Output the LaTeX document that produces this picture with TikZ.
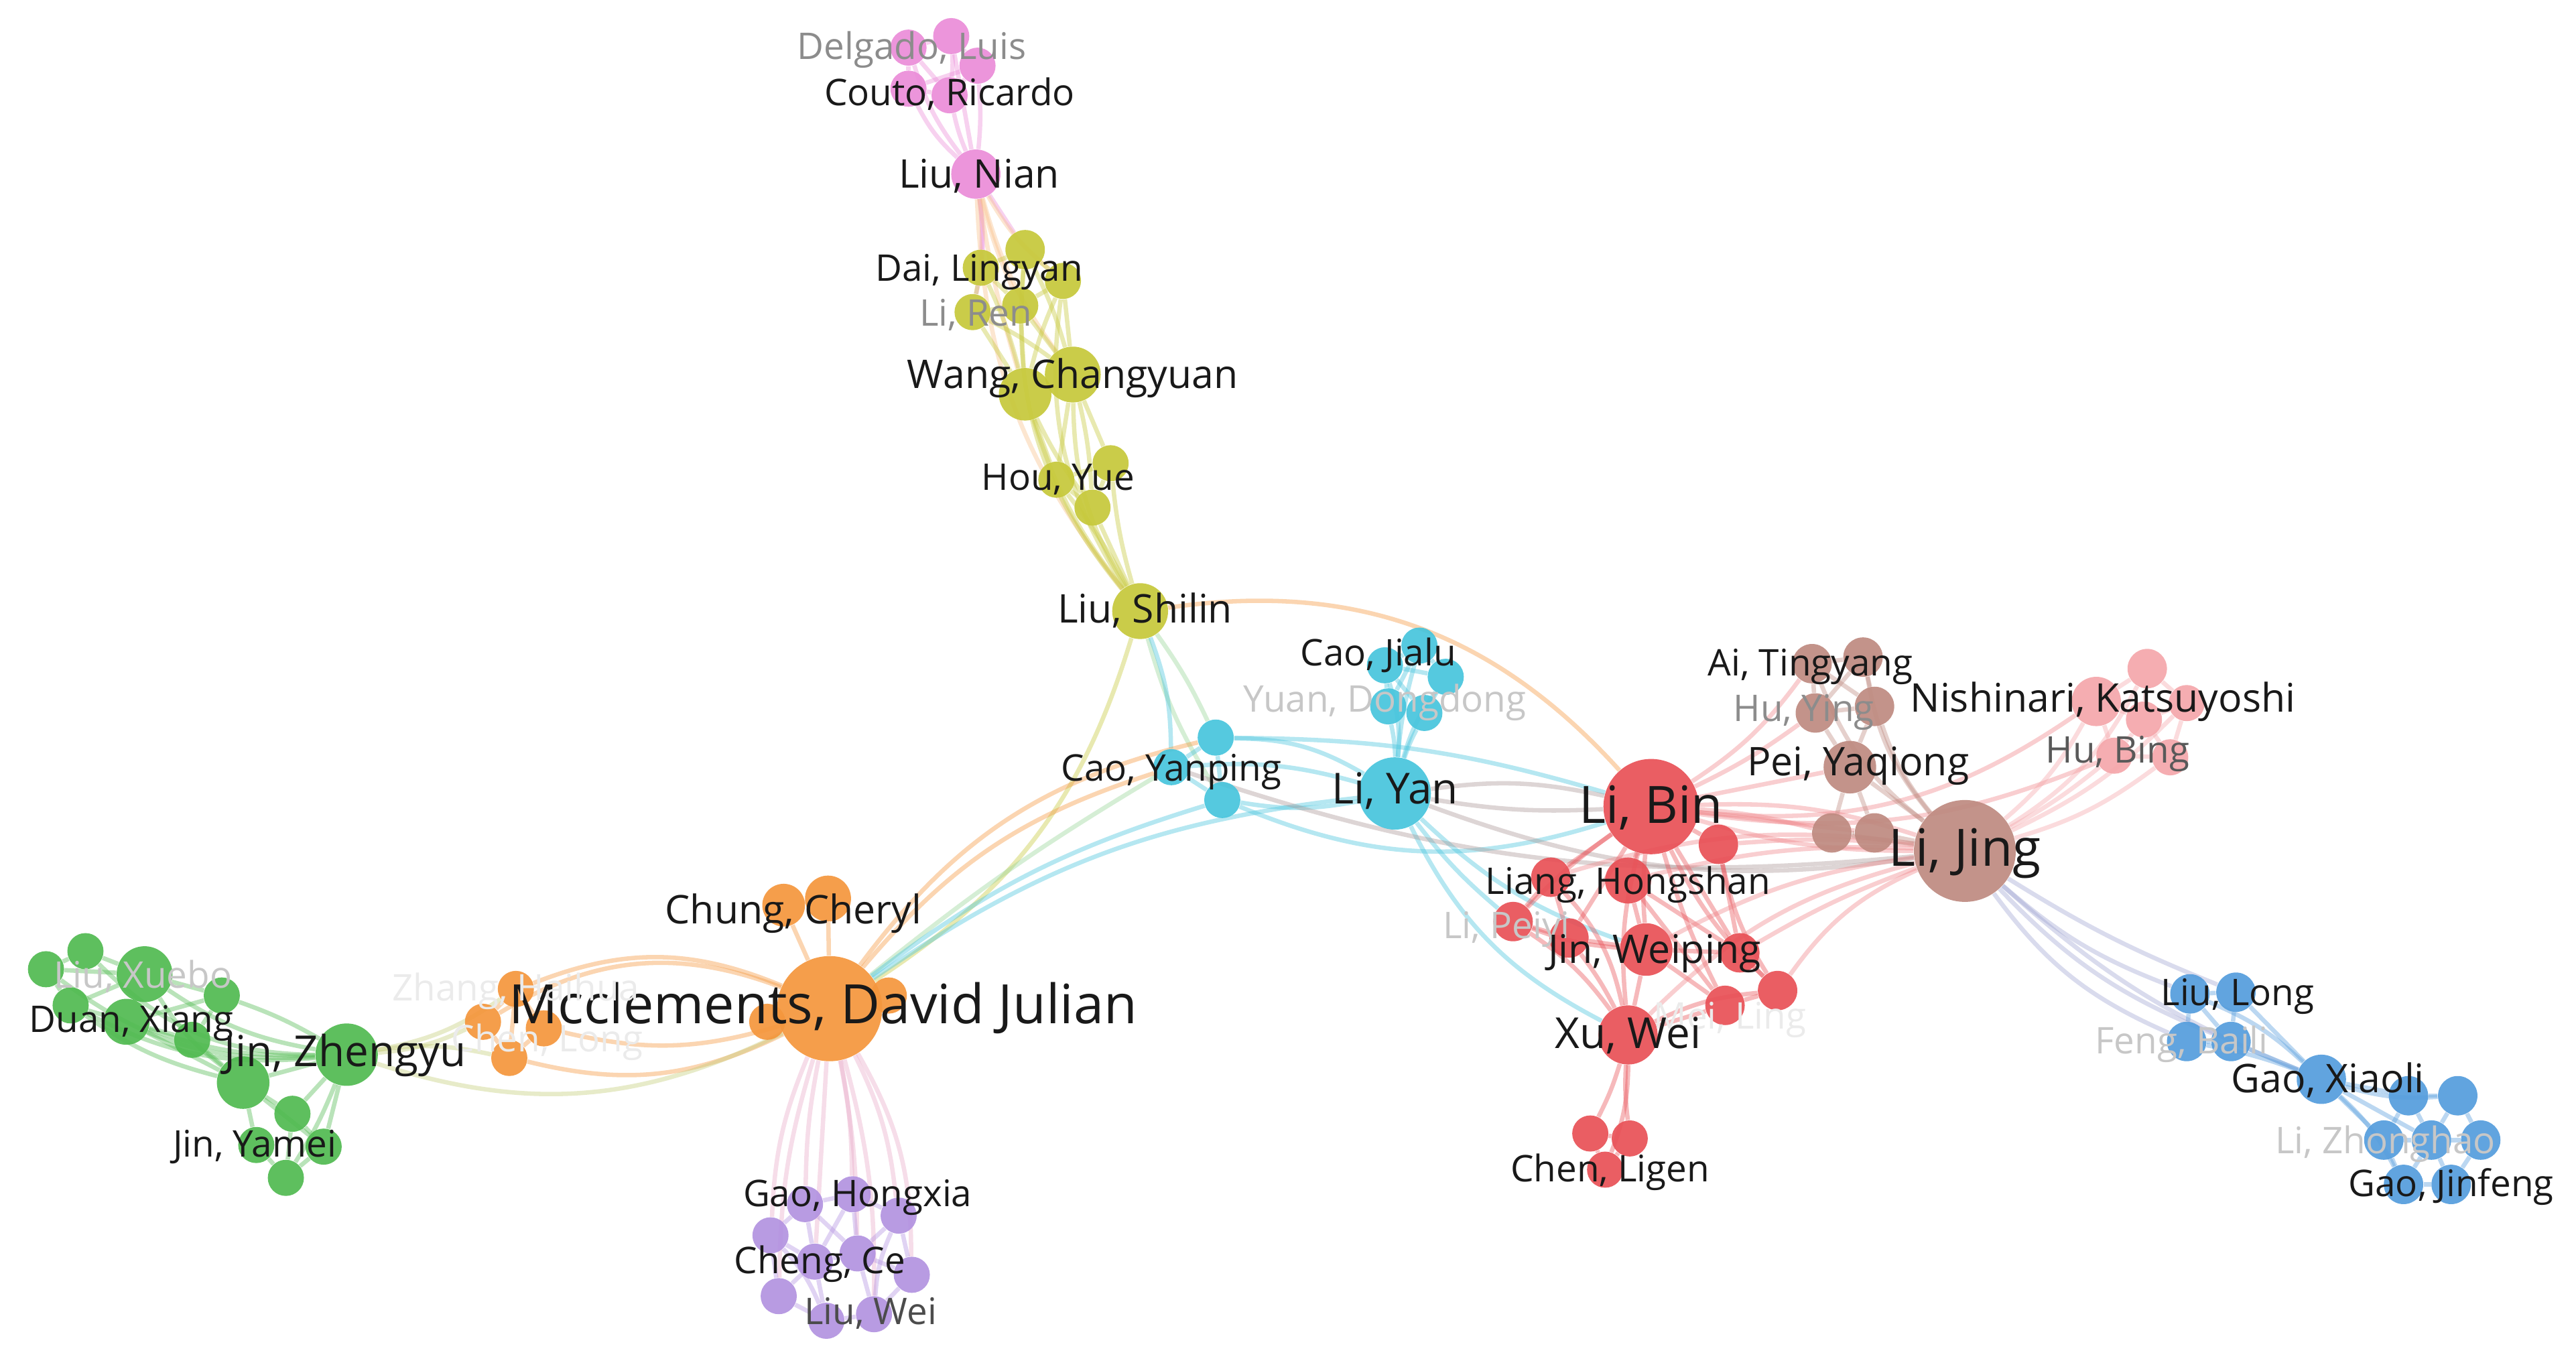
\documentclass[tikz,border=0pt]{standalone}
\usepackage{fontspec}
\setmainfont{Open Sans}
\pgfdeclarelayer{bg}
\pgfsetlayers{bg,main}
\definecolor{cPk}{RGB}{234,140,216}
\definecolor{cYe}{RGB}{198,200,58}
\definecolor{cCy}{RGB}{70,196,220}
\definecolor{cOr}{RGB}{244,150,60}
\definecolor{cGr}{RGB}{80,186,80}
\definecolor{cPu}{RGB}{178,146,224}
\definecolor{cRd}{RGB}{232,80,86}
\definecolor{cBr}{RGB}{190,138,128}
\definecolor{cLp}{RGB}{244,166,170}
\definecolor{cBl}{RGB}{84,156,220}
\definecolor{eYG}{RGB}{150,212,150}
\definecolor{eOG}{RGB}{196,204,120}
\definecolor{ePP}{RGB}{232,170,200}
\definecolor{eGB}{RGB}{170,150,150}
\definecolor{eBB}{RGB}{160,165,210}
\tikzset{
  nd/.style={circle,inner sep=0pt,fill opacity=0.92,minimum size={#1*0.5mm}},
  ed/.style={line width=1.9pt,draw opacity=0.4},
  lb/.style={inner sep=0pt,text height=0.72em,text depth=0pt,anchor=center,text=black!90,yshift=-0.8mm},
  sA/.style={lb,font=\fontsize{15.9}{18}\selectfont},
  sB/.style={lb,font=\fontsize{17.1}{20}\selectfont},
  sC/.style={lb,font=\fontsize{18.5}{21}\selectfont},
  sD/.style={lb,font=\fontsize{22.3}{25}\selectfont},
  sE/.style={lb,font=\fontsize{23.5}{26}\selectfont},
  fA/.style={text=black!45},
  fB/.style={text=black!22},
  fC/.style={text=black!8}
}
\newcommand\nodeat[5]{\node[nd=#4,fill=#5] (#1) at (#2,#3) {};}
\begin{document}
\begin{tikzpicture}[x=0.25mm,y=-0.25mm]
\useasboundingbox (0,0) rectangle (1568,833);
% pink
\nodeat{pkA}{553}{29}{11}{cPk}
\nodeat{pkB}{579}{22}{11}{cPk}
\nodeat{pkC}{595}{40}{11}{cPk}
\nodeat{pkD}{553}{54}{11}{cPk}
\nodeat{pkE}{578}{58}{11}{cPk}
\nodeat{nian}{594}{106}{15}{cPk}
% yellow
\nodeat{yA}{597}{163}{11}{cYe}
\nodeat{yB}{624}{152}{12}{cYe}
\nodeat{yC}{647}{171}{11}{cYe}
\nodeat{yD}{592}{190}{11}{cYe}
\nodeat{yE}{621}{186}{11}{cYe}
\nodeat{wcA}{653}{228}{17}{cYe}
\nodeat{wcB}{624}{240}{16}{cYe}
\nodeat{yF}{676}{282}{11}{cYe}
\nodeat{yG}{643}{292}{11}{cYe}
\nodeat{yH}{665}{309}{11}{cYe}
\nodeat{shilin}{694}{372}{17}{cYe}
% cyan
\nodeat{cyA}{740}{449}{11}{cCy}
\nodeat{cyB}{713}{467}{11}{cCy}
\nodeat{cyC}{744}{487}{11}{cCy}
\nodeat{cjA}{864}{393}{11}{cCy}
\nodeat{cjB}{843}{405}{11}{cCy}
\nodeat{cjC}{880}{412}{11}{cCy}
\nodeat{cjD}{845}{430}{11}{cCy}
\nodeat{cjE}{867}{434}{11}{cCy}
\nodeat{liyan}{849}{483}{22}{cCy}
% orange
\nodeat{chA}{477}{551}{13}{cOr}
\nodeat{chB}{504}{547}{14}{cOr}
\nodeat{oL}{467}{622}{11}{cOr}
\nodeat{oR}{541}{606}{11}{cOr}
\nodeat{mcc}{505}{614}{32}{cOr}
\nodeat{zA}{314}{602}{11}{cOr}
\nodeat{zB}{294}{622}{11}{cOr}
\nodeat{zC}{331}{626}{11}{cOr}
\nodeat{zD}{310}{644}{11}{cOr}
% green
\nodeat{gA}{28}{590}{11}{cGr}
\nodeat{gB}{52}{579}{11}{cGr}
\nodeat{gC}{88}{593}{17}{cGr}
\nodeat{gD}{43}{612}{11}{cGr}
\nodeat{gE}{77}{622}{14}{cGr}
\nodeat{gF}{135}{606}{11}{cGr}
\nodeat{gG}{117}{633}{11}{cGr}
\nodeat{gH}{148}{659}{16}{cGr}
\nodeat{jz}{211}{642}{19}{cGr}
\nodeat{gI}{178}{678}{11}{cGr}
\nodeat{gJ}{156}{697}{11}{cGr}
\nodeat{gK}{197}{698}{11}{cGr}
\nodeat{gL}{174}{717}{11}{cGr}
% purple
\nodeat{puA}{490}{733}{11}{cPu}
\nodeat{puB}{519}{727}{11}{cPu}
\nodeat{puC}{547}{740}{11}{cPu}
\nodeat{puD}{469}{752}{11}{cPu}
\nodeat{puE}{496}{768}{11}{cPu}
\nodeat{puF}{522}{763}{11}{cPu}
\nodeat{puG}{555}{776}{11}{cPu}
\nodeat{puH}{474}{789}{11}{cPu}
\nodeat{puI}{503}{804}{11}{cPu}
\nodeat{puJ}{532}{800}{11}{cPu}
% red
\nodeat{libin}{1005}{491}{29}{cRd}
\nodeat{rA}{1046}{514}{12}{cRd}
\nodeat{rB}{944}{534}{12}{cRd}
\nodeat{rC}{991}{536}{14}{cRd}
\nodeat{rD}{921}{561}{12}{cRd}
\nodeat{rE}{955}{571}{12}{cRd}
\nodeat{jw}{1002}{578}{16}{cRd}
\nodeat{rF}{1059}{580}{12}{cRd}
\nodeat{rG}{1082}{603}{12}{cRd}
\nodeat{rH}{1050}{612}{12}{cRd}
\nodeat{xuwei}{991}{630}{18}{cRd}
\nodeat{clA}{968}{690}{11}{cRd}
\nodeat{clB}{992}{693}{11}{cRd}
\nodeat{clC}{977}{712}{11}{cRd}
% brown
\nodeat{brA}{1103}{404}{12}{cBr}
\nodeat{brB}{1134}{400}{12}{cBr}
\nodeat{brC}{1105}{434}{12}{cBr}
\nodeat{brD}{1141}{430}{12}{cBr}
\nodeat{pei}{1126}{467}{16}{cBr}
\nodeat{brE}{1115}{507}{12}{cBr}
\nodeat{brF}{1141}{507}{12}{cBr}
\nodeat{lijing}{1196}{518}{31}{cBr}
% light pink
\nodeat{nkA}{1276}{427}{15}{cLp}
\nodeat{nkB}{1307}{407}{12}{cLp}
\nodeat{nkC}{1331}{428}{11}{cLp}
\nodeat{nkD}{1305}{438}{11}{cLp}
\nodeat{nkE}{1287}{460}{11}{cLp}
\nodeat{nkF}{1321}{461}{11}{cLp}
% blue
\nodeat{blA}{1333}{605}{12}{cBl}
\nodeat{blB}{1361}{604}{12}{cBl}
\nodeat{blC}{1331}{634}{12}{cBl}
\nodeat{blD}{1358}{634}{12}{cBl}
\nodeat{gx}{1413}{657}{15}{cBl}
\nodeat{blE}{1466}{667}{12}{cBl}
\nodeat{blF}{1496}{667}{12}{cBl}
\nodeat{blG}{1451}{694}{12}{cBl}
\nodeat{blH}{1480}{694}{12}{cBl}
\nodeat{blI}{1510}{694}{12}{cBl}
\nodeat{blJ}{1463}{721}{12}{cBl}
\nodeat{blK}{1492}{721}{12}{cBl}

\begin{pgfonlayer}{bg}
\foreach \a/\b/\k in {pkA/pkB/0,pkA/pkD/0,pkB/pkC/0,pkB/pkE/5,pkD/pkE/0,pkC/pkE/0,pkA/pkE/0,pkD/pkC/0,pkD/nian/-10,pkE/nian/-5,pkA/nian/-10,pkC/nian/5,pkB/nian/0,nian/yA/5,nian/yD/10,nian/yB/0}
  \draw[ed,cPk] (\a) to[bend left=\k] (\b);
\foreach \a/\b/\k in {nian/yE/-5,nian/wcA/-10,nian/yC/-10,nian/shilin/-18,nian/wcB/-4}
  \draw[ed,cOr!60] (\a) to[bend left=\k] (\b);
\foreach \a/\b/\k in {yA/yB/0,yA/yD/0,yA/yE/0,yB/yC/0,yB/yE/0,yC/yE/0,yD/yE/0,yA/wcB/5,yD/wcB/0,yE/wcA/0,yC/wcA/0,yB/wcA/5,yD/wcA/5,yE/wcB/0,yC/wcB/-5,wcA/wcB/0,wcA/yF/0,wcA/yH/5,wcB/yG/0,wcB/yH/-5,wcA/yG/0,yF/yG/0,yG/yH/0,yF/yH/0,wcA/shilin/-15,wcB/shilin/-10,yH/shilin/0,yG/shilin/5,yF/shilin/-5,yC/shilin/-20,yB/shilin/-22,shilin/mcc/20}
  \draw[ed,cYe] (\a) to[bend left=\k] (\b);
\foreach \a/\b/\k in {shilin/cyA/5,shilin/cyC/-8,mcc/cyB/4}
  \draw[ed,eYG] (\a) to[bend left=\k] (\b);
\draw[ed,cOr] (shilin) to[bend left=28] (libin);
\foreach \a/\b/\k in {shilin/cyB/10,cyA/cyB/0,cyB/cyC/0,cyA/cyC/0,cyA/liyan/15,cyB/liyan/10,cyC/liyan/-10,cjA/cjB/0,cjA/cjC/0,cjB/cjD/0,cjD/cjE/0,cjC/cjE/0,cjB/cjE/0,cjA/cjD/0,cjB/cjC/0,cjD/liyan/5,cjE/liyan/-5,cjB/liyan/10,cjA/liyan/-5,cjC/liyan/-10,cyC/libin/-20,cyA/libin/8,liyan/jw/-12,liyan/xuwei/-18,liyan/rD/-6,mcc/cyC/10,mcc/liyan/14}
  \draw[ed,cCy] (\a) to[bend left=\k] (\b);
\foreach \a/\b/\k in {liyan/libin/10,liyan/libin/-6,liyan/lijing/-14,cyB/lijing/-12}
  \draw[ed,eGB] (\a) to[bend left=\k] (\b);
\foreach \a/\b/\k in {mcc/chA/0,mcc/chB/0,chA/chB/0,mcc/zA/-22,mcc/zB/-26,mcc/zC/15,mcc/zD/20,zA/zB/0,zA/zC/0,zB/zD/0,zC/zD/0,zA/zD/0,mcc/oL/0,mcc/oR/0,mcc/cyB/16,mcc/cyA/20}
  \draw[ed,cOr] (\a) to[bend left=\k] (\b);
\foreach \a/\b/\k in {jz/zB/-10,jz/zD/10,jz/zA/-12,jz/mcc/-22}
  \draw[ed,eOG] (\a) to[bend left=\k] (\b);
\foreach \a/\b/\k in {gA/gB/0,gA/gD/0,gB/gC/0,gC/gD/0,gC/gE/0,gD/gE/0,gA/gC/0,gC/gF/0,gE/gF/0,gE/gG/0,gF/gG/0,gC/gH/-10,gE/gH/0,gD/gH/-10,gG/gH/0,gC/jz/-12,gB/jz/-22,gE/jz/-10,gF/jz/5,gD/jz/-16,gH/jz/0,gH/gI/0,gH/gJ/0,gI/gK/0,gJ/gL/0,gK/gL/0,gI/gL/0,jz/gK/0,jz/gI/0,gH/gK/0,gA/jz/-20,jz/gL/5}
  \draw[ed,cGr] (\a) to[bend left=\k] (\b);
\foreach \a/\b/\k in {mcc/puA/-5,mcc/puB/5,mcc/puD/-10,mcc/puE/0,mcc/puF/5,mcc/puC/10,mcc/puG/15,mcc/puH/-8,mcc/puJ/8}
  \draw[ed,ePP] (\a) to[bend left=\k] (\b);
\foreach \a/\b/\k in {puA/puB/0,puB/puC/0,puA/puD/0,puD/puE/0,puE/puF/0,puF/puC/0,puC/puG/0,puG/puF/0,puE/puH/0,puH/puI/0,puI/puJ/0,puJ/puG/0,puA/puE/0,puB/puF/0,puD/puH/0,puE/puI/0,puF/puJ/0,puA/puF/0,puB/puE/0,puD/puI/10,puC/puJ/-10}
  \draw[ed,cPu] (\a) to[bend left=\k] (\b);
\foreach \a/\b/\k in {libin/rA/0,libin/rB/0,libin/rC/0,libin/rD/-5,libin/rE/0,libin/jw/-5,libin/rF/0,libin/rG/-10,libin/rH/-5,libin/xuwei/-10,rB/rD/0,rB/rE/0,rC/jw/0,rD/rE/0,rE/jw/0,jw/rF/0,jw/xuwei/0,rF/rG/0,rG/rH/0,rH/xuwei/0,rD/xuwei/10,rB/xuwei/15,rA/rF/0,rA/rG/-10,rC/rH/0,jw/rH/0,xuwei/rG/10,rE/xuwei/5,xuwei/clA/5,xuwei/clB/-5,xuwei/clC/10,clA/clB/0,clA/clC/0,clB/clC/0,rC/rF/0,rD/jw/-8}
  \draw[ed,cRd] (\a) to[bend left=\k] (\b);
\foreach \a/\b/\k in {libin/brA/-10,libin/brC/-5,libin/pei/0,libin/brE/5,libin/brF/0,libin/lijing/-8,libin/lijing/10,libin/nkA/-20,libin/nkE/-15,rA/lijing/5,jw/lijing/10,rF/lijing/5,rG/lijing/15,xuwei/lijing/15,rC/lijing/8,rB/lijing/12}
  \draw[ed,cRd!70] (\a) to[bend left=\k] (\b);
\foreach \a/\b/\k in {brA/brB/0,brA/brC/0,brB/brD/0,brC/brD/0,brA/brD/0,brB/brC/0,brC/pei/0,brD/pei/0,pei/brE/0,pei/brF/0,brE/brF/0,pei/lijing/0,brD/lijing/-10,brB/lijing/-15,brF/lijing/0,brE/lijing/0,brA/lijing/-15}
  \draw[ed,cBr] (\a) to[bend left=\k] (\b);
\foreach \a/\b/\k in {nkA/nkB/0,nkB/nkC/0,nkA/nkD/0,nkB/nkD/0,nkC/nkD/0,nkD/nkE/0,nkD/nkF/0,nkE/nkF/0,nkA/nkE/0,nkC/nkF/0,lijing/nkA/-10,lijing/nkE/-5,lijing/nkF/-10,lijing/nkB/-15,lijing/nkC/-10}
  \draw[ed,cLp] (\a) to[bend left=\k] (\b);
\foreach \a/\b/\k in {lijing/blA/-10,lijing/blC/-15,lijing/gx/-10,lijing/blB/-5,lijing/blD/-12}
  \draw[ed,eBB] (\a) to[bend left=\k] (\b);
\foreach \a/\b/\k in {blA/blB/0,blA/blC/0,blB/blD/0,blC/blD/0,blA/blD/0,blC/gx/5,blD/gx/0,blA/gx/10,blB/gx/0,gx/blE/0,gx/blF/-10,gx/blG/0,gx/blH/0,gx/blJ/10,blE/blF/0,blE/blG/0,blE/blH/0,blF/blH/0,blF/blI/0,blG/blH/0,blH/blI/0,blG/blJ/0,blH/blJ/0,blH/blK/0,blI/blK/0,blJ/blK/0}
  \draw[ed,cBl] (\a) to[bend left=\k] (\b);
\end{pgfonlayer}

% labels
\node[sA,fA] (tDelgado) at (555,28) {Delgado, Luis};
\node[sA] (tCouto) at (578,56) {Couto, Ricardo};
\node[sB] (tNian) at (596,106) {Liu, Nian};
\node[sA] (tDai) at (596,163) {Dai, Lingyan};
\node[sA,fA] (tRen) at (594,190) {Li, Ren};
\node[sB] (tWang) at (653,228) {Wang, Changyuan};
\node[sA] (tHou) at (644,290) {Hou, Yue};
\node[sB] (tShilin) at (697,371) {Liu, Shilin};
\node[sA] (tJialu) at (839,397) {Cao, Jialu};
\node[sA,fB] (tYuan) at (843,425) {Yuan, Dongdong};
\node[sA] (tYanping) at (713,467) {Cao, Yanping};
\node[sC] (tLiyan) at (849,481) {Li, Yan};
\node[sA] (tAi) at (1102,403) {Ai, Tingyang};
\node[sA,fA] (tHuying) at (1098,431) {Hu, Ying};
\node[sB] (tNishi) at (1280,425) {Nishinari, Katsuyoshi};
\node[sA,text=black!65] (tHubing) at (1289,456) {Hu, Bing};
\node[sB] (tPei) at (1131,464) {Pei, Yaqiong};
\node[sD] (tLibin) at (1005,493) {Li, Bin};
\node[sD] (tLijing) at (1196,519) {Li, Jing};
\node[sA] (tLiang) at (991,536) {Liang, Hongshan};
\node[sA,fB] (tPeiyi) at (917,563) {Li, Peiyi};
\node[sB] (tJw) at (1007,578) {Jin, Weiping};
\node[sA,fC] (tMei) at (1053,618) {Mei, Ling};
\node[sC] (tXu) at (991,630) {Xu, Wei};
\node[sA] (tLigen) at (980,711) {Chen, Ligen};
\node[sA] (tLong) at (1362,604) {Liu, Long};
\node[sA,fB] (tFeng) at (1328,633) {Feng, Baili};
\node[sB] (tGx) at (1417,657) {Gao, Xiaoli};
\node[sA,fB] (tZhonghao) at (1452,694) {Li, Zhonghao};
\node[sA] (tJinfeng) at (1492,720) {Gao, Jinfeng};
\node[sB] (tChung) at (483,554) {Chung, Cheryl};
\node[sE] (tMcc) at (501,615) {Mcclements, David Julian};
\node[sA,fC] (tZhang) at (314,601) {Zhang, Haihua};
\node[sA,fC] (tChenlong) at (333,632) {Chen, Long};
\node[sA,fB] (tXuebo) at (87,593) {Liu, Xuebo};
\node[sA] (tDuan) at (80,620) {Duan, Xiang};
\node[sC] (tJz) at (210,641) {Jin, Zhengyu};
\node[sA] (tYamei) at (155,696) {Jin, Yamei};
\node[sA] (tHongxia) at (522,726) {Gao, Hongxia};
\node[sA] (tCheng) at (499,767) {Cheng, Ce};
\node[sA,text=black!70] (tLiuwei) at (530,798) {Liu, Wei};
\end{tikzpicture}
\end{document}
